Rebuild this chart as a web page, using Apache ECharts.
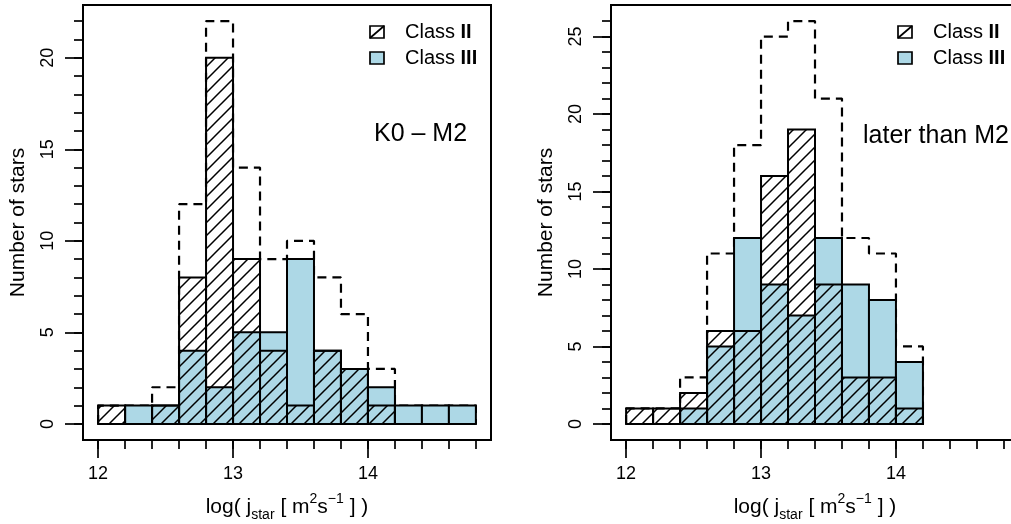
<!DOCTYPE html>
<html>
<head>
<meta charset="utf-8">
<script src="https://cdn.jsdelivr.net/npm/echarts@6/dist/echarts.min.js"></script>
<style>
  html, body { margin: 0; padding: 0; background: #fff; }
  #chart { width: 1011px; height: 524px; }
</style>
</head>
<body>
<div id="chart"></div>
<script>
// histogram bins of log(j_star), 0.2 wide
var binEdgesK = [12.0, 12.2, 12.4, 12.6, 12.8, 13.0, 13.2, 13.4, 13.6, 13.8, 14.0, 14.2, 14.4, 14.6, 14.8];
var classIIK  = [1, 0, 1, 8, 20, 9, 4, 1, 4, 3, 1, 0, 0, 0];
var classIIIK = [0, 1, 1, 4, 2, 5, 5, 9, 4, 3, 2, 1, 1, 1];

var binEdgesM = [12.0, 12.2, 12.4, 12.6, 12.8, 13.0, 13.2, 13.4, 13.6, 13.8, 14.0, 14.2];
var classIIM  = [1, 1, 2, 6, 6, 16, 19, 9, 3, 3, 1];
var classIIIM = [0, 0, 1, 5, 12, 9, 7, 12, 9, 8, 4];

// tick labels
var xMajorTicks = [12, 13, 14];
var xMinorTicks = [12, 12.2, 12.4, 12.6, 12.8, 13, 13.2, 13.4, 13.6, 13.8, 14, 14.2, 14.4, 14.6, 14.8];
var yMajorTicksK = [0, 5, 10, 15, 20];
var yMinorTicksK = [0,1,2,3,4,5,6,7,8,9,10,11,12,13,14,15,16,17,18,19,20,21,22];
var yMajorTicksM = [0, 5, 10, 15, 20, 25];
var yMinorTicksM = [0,1,2,3,4,5,6,7,8,9,10,11,12,13,14,15,16,17,18,19,20,21,22,23,24,25,26];

var FONT = '"Liberation Sans", Arial, Helvetica, sans-serif';
var BLUE = '#ADD8E6';

// hatch pattern ( / lines )
var hatch = document.createElement('canvas');
hatch.width = 13; hatch.height = 13;
var hctx = hatch.getContext('2d');
hctx.strokeStyle = '#000';
hctx.lineWidth = 1.5;
hctx.beginPath();
[-13, 0, 13].forEach(function (k) {
  hctx.moveTo(k - 1, 14);
  hctx.lineTo(k + 14, -1);
});
hctx.stroke();
var hatchFill = { image: hatch, repeat: 'repeat' };

function barData(edges, vals) {
  var out = [];
  for (var i = 0; i < vals.length; i++) out.push([edges[i], edges[i + 1], vals[i]]);
  return out;
}
// dashed outline of the total
function stepOutline(edges, a, b) {
  var pts = [[edges[0], 0]];
  for (var i = 0; i < a.length; i++) {
    var t = a[i] + b[i];
    pts.push([edges[i], t]);
    pts.push([edges[i + 1], t]);
  }
  pts.push([edges[edges.length - 1], 0]);
  return pts;
}
function rectItem(fill) {
  return function (params, api) {
    var p0 = api.coord([api.value(0), api.value(2)]);
    var p1 = api.coord([api.value(1), 0]);
    return {
      type: 'rect',
      shape: { x: p0[0], y: p0[1], width: p1[0] - p0[0], height: p1[1] - p0[1] },
      style: { fill: fill, stroke: '#000', lineWidth: 2 }
    };
  };
}

var xName = 'log( j{sub|star} [ m{sup|2}s{sup|−1} ] )';
var nameRich = {
  sub: { fontSize: 14, fontFamily: FONT, color: '#000', verticalAlign: 'bottom' },
  sup: { fontSize: 14, fontFamily: FONT, color: '#000', verticalAlign: 'top' }
};

function xAxes(g) {
  return [{
    gridIndex: g, type: 'value', min: 11.888, max: 14.912, position: 'bottom',
    axisLine: { show: false, onZero: false }, splitLine: { show: false },
    axisTick: { show: true, customValues: xMajorTicks, length: 18, lineStyle: { color: '#000', width: 1.7 } },
    axisLabel: { customValues: xMajorTicks, fontSize: 18, fontFamily: FONT, color: '#000', margin: 25 },
    name: xName, nameLocation: 'middle', nameGap: 52,
    nameTextStyle: { fontSize: 21, fontFamily: FONT, color: '#000', lineHeight: 30, rich: nameRich }
  }, {
    gridIndex: g, type: 'value', min: 11.888, max: 14.912, position: 'bottom',
    axisLine: { show: false, onZero: false }, splitLine: { show: false },
    axisTick: { show: true, customValues: xMinorTicks, length: 9, lineStyle: { color: '#000', width: 1.7 } },
    axisLabel: { show: false }
  }];
}
function yAxes(g, min, max, major, minor) {
  return [{
    gridIndex: g, type: 'value', min: min, max: max, position: 'left',
    axisLine: { show: false, onZero: false }, splitLine: { show: false },
    axisTick: { show: true, customValues: major, length: 18, lineStyle: { color: '#000', width: 1.7 } },
    axisLabel: { customValues: major, rotate: 90, fontSize: 18, fontFamily: FONT, color: '#000', margin: 26 },
    name: 'Number of stars', nameLocation: 'middle', nameGap: 54,
    nameTextStyle: { fontSize: 21, fontFamily: FONT, color: '#000' }
  }, {
    gridIndex: g, type: 'value', min: min, max: max, position: 'left',
    axisLine: { show: false, onZero: false }, splitLine: { show: false },
    axisTick: { show: true, customValues: minor, length: 9, lineStyle: { color: '#000', width: 1.7 } },
    axisLabel: { show: false }
  }];
}

function panelSeries(xi, yi, edges, c2, c3) {
  return [{
    type: 'line', xAxisIndex: xi, yAxisIndex: yi, data: stepOutline(edges, c2, c3),
    symbol: 'none', z: 1,
    lineStyle: { color: '#000', width: 2.2, type: [9, 6] }
  }, {
    type: 'custom', xAxisIndex: xi, yAxisIndex: yi, data: barData(edges, c3),
    renderItem: rectItem(BLUE), z: 2
  }, {
    type: 'custom', xAxisIndex: xi, yAxisIndex: yi, data: barData(edges, c2),
    renderItem: rectItem(hatchFill), z: 3
  }];
}

function legend(right) {
  var sx = right - 121, tx = right - 86;
  var rich = { b: { fontSize: 20, fontFamily: FONT, fontWeight: 'bold', fill: '#000' } };
  return [
    { type: 'rect', shape: { x: sx, y: 26, width: 14, height: 12 }, style: { fill: '#fff', stroke: '#000', lineWidth: 1.7 } },
    { type: 'line', shape: { x1: sx, y1: 38, x2: sx + 14, y2: 26 }, style: { stroke: '#000', lineWidth: 1.7 } },
    { type: 'text', x: tx, y: 32, style: { text: 'Class {b|II}', fontSize: 20, fontFamily: FONT, fill: '#000', verticalAlign: 'middle', rich: rich } },
    { type: 'rect', shape: { x: sx, y: 52, width: 14, height: 12 }, style: { fill: BLUE, stroke: '#000', lineWidth: 1.7 } },
    { type: 'text', x: tx, y: 58, style: { text: 'Class {b|III}', fontSize: 20, fontFamily: FONT, fill: '#000', verticalAlign: 'middle', rich: rich } }
  ];
}

var chart = echarts.init(document.getElementById('chart'));
chart.setOption({
  animation: false,
  backgroundColor: '#fff',
  grid: [
    { left: 83, top: 5, width: 408, height: 435, show: true, borderColor: '#000', borderWidth: 2, backgroundColor: 'transparent', outerBoundsMode: 'none' },
    { left: 611, top: 5, width: 408, height: 435, show: true, borderColor: '#000', borderWidth: 2, backgroundColor: 'transparent', outerBoundsMode: 'none' }
  ],
  xAxis: xAxes(0).concat(xAxes(1)),
  yAxis: yAxes(0, -0.88, 22.88, yMajorTicksK, yMinorTicksK).concat(yAxes(1, -1.04, 27.04, yMajorTicksM, yMinorTicksM)),
  series: panelSeries(0, 0, binEdgesK, classIIK, classIIIK).concat(panelSeries(2, 2, binEdgesM, classIIM, classIIIM)),
  graphic: legend(491).concat(legend(1019)).concat([
    { type: 'text', x: 374, y: 134, style: { text: 'K0 – M2', fontSize: 25, fontFamily: FONT, fill: '#000', verticalAlign: 'middle' } },
    { type: 'text', x: 863, y: 136, style: { text: 'later than M2', fontSize: 25, fontFamily: FONT, fill: '#000', verticalAlign: 'middle' } }
  ])
});
</script>
</body>
</html>
